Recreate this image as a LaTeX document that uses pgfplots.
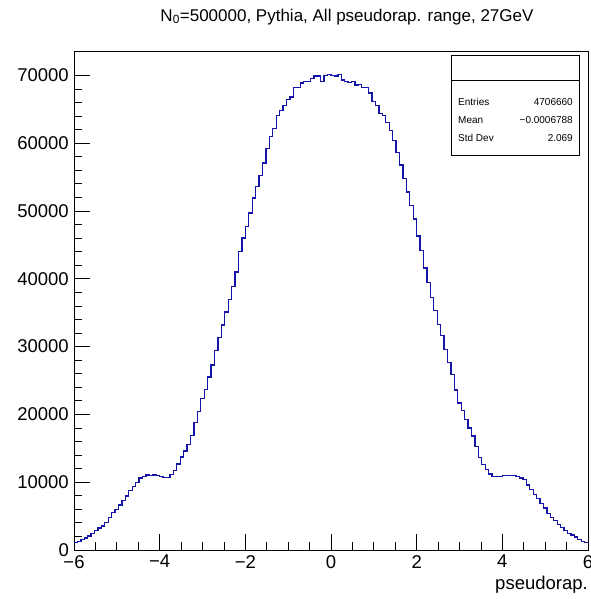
\documentclass[border=0pt]{standalone}
\usepackage{fontspec}
\setmainfont{Liberation Sans}
\usepackage{pgfplots}
\pgfplotsset{compat=1.18}
\usepackage{pgfplotstable}
\definecolor{rootblue}{RGB}{20,20,170}

% 150 bins from -6 to 6, left edge and content; last row closes the final bin
\pgfplotstableread{
x y
-6.00 1100
-5.92 1300
-5.84 1500
-5.76 1750
-5.68 2050
-5.60 2450
-5.52 2850
-5.44 3250
-5.36 3550
-5.28 4050
-5.20 4800
-5.12 5500
-5.04 6000
-4.96 6650
-4.88 7350
-4.80 7950
-4.72 8750
-4.64 9400
-4.56 9950
-4.48 10600
-4.40 10850
-4.32 11050
-4.24 10950
-4.16 11050
-4.08 10950
-4.00 10850
-3.92 10700
-3.84 10650
-3.76 11150
-3.68 11750
-3.60 12700
-3.52 13700
-3.44 14600
-3.36 15600
-3.28 16900
-3.20 18800
-3.12 20400
-3.04 22300
-2.96 23700
-2.88 25500
-2.80 27300
-2.72 29400
-2.64 31300
-2.56 33200
-2.48 35100
-2.40 36900
-2.32 38900
-2.24 41000
-2.16 44000
-2.08 46000
-2.00 47700
-1.92 49700
-1.84 51900
-1.76 53600
-1.68 55200
-1.60 57100
-1.52 59200
-1.44 61000
-1.36 62200
-1.28 64100
-1.20 64800
-1.12 65600
-1.04 66400
-0.96 66800
-0.88 68200
-0.80 68200
-0.72 68900
-0.64 69100
-0.56 69100
-0.48 69500
-0.40 69900
-0.32 69900
-0.24 69100
-0.16 70000
-0.08 70100
0.00 70000
0.08 69900
0.16 70100
0.24 69300
0.32 69100
0.40 69000
0.48 69100
0.56 68600
0.64 68700
0.72 68200
0.80 68200
0.88 67400
0.96 66200
1.04 65600
1.12 64400
1.20 64100
1.28 63100
1.36 61900
1.44 60400
1.52 58600
1.60 56800
1.68 54800
1.76 52800
1.84 50800
1.92 48800
2.00 46300
2.08 44200
2.16 41600
2.24 39500
2.32 37200
2.40 35300
2.48 33300
2.56 31600
2.64 29600
2.72 27700
2.80 25900
2.88 23600
2.96 21700
3.04 20600
3.12 19200
3.20 18000
3.28 16800
3.36 15300
3.44 13600
3.52 12600
3.60 11900
3.68 11200
3.76 10800
3.84 10800
3.92 10800
4.00 11000
4.08 11000
4.16 11000
4.24 11000
4.32 10800
4.40 10600
4.48 10400
4.56 9600
4.64 8900
4.72 8200
4.80 7600
4.88 6900
4.96 6200
5.04 5400
5.12 4800
5.20 4300
5.28 3800
5.36 3300
5.44 2900
5.52 2450
5.60 2200
5.68 1900
5.76 1600
5.84 1300
5.92 1100
6.00 1100
}\etadata

\begin{document}
\begin{tikzpicture}
\begin{axis}[
    at={(0pt,0pt)}, anchor=south west,
    scale only axis, width=514pt, height=499pt,
    xmin=-6, xmax=6, ymin=0, ymax=73600,
    scaled y ticks=false,
    axis line style={line width=0.8pt},
    xtick={-6,-4,-2,0,2,4,6},
    xticklabels={−6,−4,−2,0,2,4,6},
    ytick={0,10000,20000,30000,40000,50000,60000,70000},
    yticklabels={0,10000,20000,30000,40000,50000,60000,70000},
    minor x tick num=3, minor y tick num=4,
    tick align=inside, xtick pos=left, ytick pos=left,
    major tick length=15.5pt, minor tick length=8pt,
    every tick/.style={black, line width=0.8pt},
    tick label style={font=\fontsize{18.5}{20}\selectfont},
    xticklabel style={anchor=north, inner sep=0pt, yshift=-5pt},
    yticklabel style={anchor=east, inner sep=0pt, xshift=-5pt},
    xlabel={pseudorap.},
    xlabel style={at={(rel axis cs:1,0)}, anchor=north east, inner sep=0pt,
        yshift=-26pt, font=\fontsize{18.5}{20}\selectfont},
]
\addplot[const plot mark left, line width=1.3pt, line join=miter, color=rootblue] table[x=x, y=y] {\etadata};
\end{axis}
\node[font=\fontsize{17}{19}\selectfont] at (273pt,533pt)
    {N\textsubscript{0}=500000, Pythia, All pseudorap. range, 27GeV};
% statistics box
\draw[fill=white, line width=0.8pt] (377.7pt,395pt) rectangle (505.3pt,495pt);
\draw[line width=0.8pt] (377.7pt,469.3pt) -- (505.3pt,469.3pt);
\begin{scope}[every node/.style={font=\fontsize{10}{12}\selectfont, inner sep=0pt}]
\node[anchor=west] at (384pt,448.3pt) {Entries};
\node[anchor=east] at (499pt,448.3pt) {4706660};
\node[anchor=west] at (384pt,430pt) {Mean};
\node[anchor=east] at (499pt,430pt) {−0.0006788};
\node[anchor=west] at (384pt,412pt) {Std Dev};
\node[anchor=east] at (499pt,412pt) {2.069};
\end{scope}
\pgfresetboundingbox
\path[use as bounding box] (-74pt,-49pt) rectangle (516pt,550pt);
\end{tikzpicture}
\end{document}
